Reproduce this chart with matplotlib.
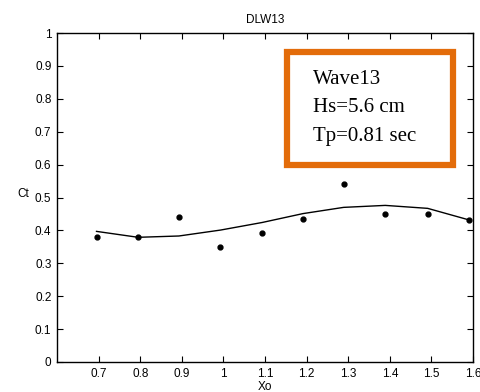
import matplotlib
matplotlib.use('Agg')
import matplotlib.pyplot as plt
from matplotlib.patches import Rectangle

# measured points
xo_meas = [0.695, 0.795, 0.893, 0.993, 1.093, 1.191, 1.289, 1.389, 1.491, 1.590]
ct_meas = [0.380, 0.381, 0.442, 0.350, 0.392, 0.434, 0.541, 0.451, 0.451, 0.432]

# model curve
xo_line = [0.695, 0.795, 0.893, 0.993, 1.093, 1.191, 1.289, 1.389, 1.491, 1.590]
ct_line = [0.397, 0.379, 0.383, 0.401, 0.424, 0.451, 0.470, 0.476, 0.467, 0.432]

xticks = [0.7, 0.8, 0.9, 1.0, 1.1, 1.2, 1.3, 1.4, 1.5, 1.6]
xtick_labels = ['0.7', '0.8', '0.9', '1', '1.1', '1.2', '1.3', '1.4', '1.5', '1.6']
yticks = [0, 0.1, 0.2, 0.3, 0.4, 0.5, 0.6, 0.7, 0.8, 0.9, 1]
ytick_labels = ['0', '0.1', '0.2', '0.3', '0.4', '0.5', '0.6', '0.7', '0.8', '0.9', '1']

info = ['Wave13', 'Hs=5.6 cm', 'Tp=0.81 sec']

plt.rcParams['font.family'] = ['Liberation Sans', 'DejaVu Sans']

fig = plt.figure(figsize=(4.81, 3.92), dpi=100)
W, H = 481, 392
ax = fig.add_axes([57 / W, 1 - 362 / H, (473 - 57) / W, (362 - 33) / H])

ax.plot(xo_line, ct_line, color='black', lw=1.0)
ax.plot(xo_meas, ct_meas, 'o', color='black', ms=3.5, ls='none')

ax.set_xlim(0.6, 1.6)
ax.set_ylim(0, 1)
ax.set_xticks(xticks)
ax.set_xticklabels(xtick_labels)
ax.set_yticks(yticks)
ax.set_yticklabels(ytick_labels)
ax.tick_params(direction='in', length=4, width=0.8, labelsize=8.5, top=True, right=True, pad=4)
for s in ax.spines.values():
    s.set_linewidth(1.0)

ax.set_title('DLW13', fontsize=8.5, pad=7)
ax.set_xlabel('Xo', fontsize=8.5, labelpad=1)
ax.set_ylabel('Ct', fontsize=8.5, rotation=0, va='center', ha='center')
ax.yaxis.set_label_coords(-0.082, 0.51)

# orange info box
box_l, box_r, box_t, box_b = 287, 453, 52, 165
rect = Rectangle((box_l / W, 1 - box_b / H), (box_r - box_l) / W, (box_b - box_t) / H,
                 transform=fig.transFigure, fill=True, facecolor='white',
                 edgecolor='#E36C0A', lw=4.5, zorder=5)
fig.patches.append(rect)
for i, t in enumerate(info):
    fig.text(313 / W, 1 - (80 + 28 * i) / H, t, family='Liberation Serif', fontsize=15,
             va='center', ha='left', zorder=6)

fig.savefig('out.png', dpi=100)
